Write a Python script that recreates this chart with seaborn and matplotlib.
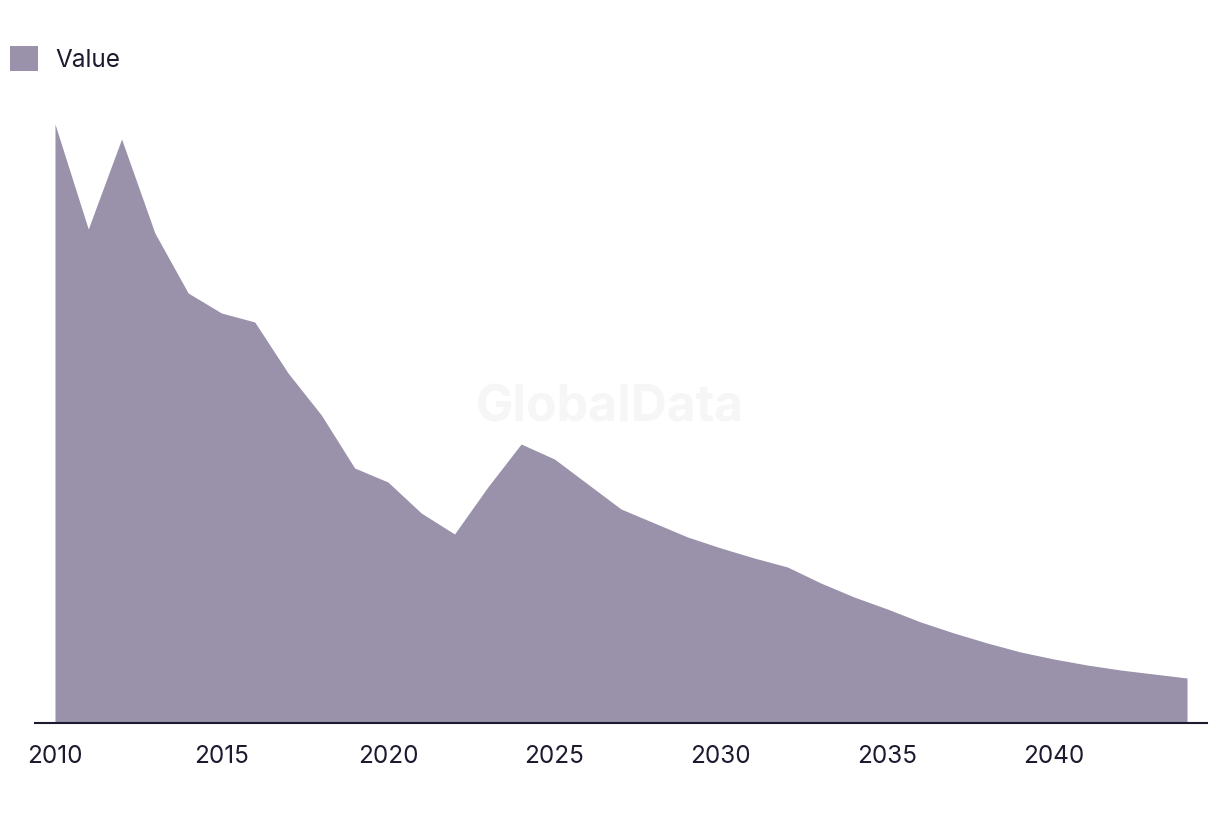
import matplotlib
matplotlib.use("Agg")
import matplotlib.pyplot as plt
import seaborn as sns
import pandas as pd
from matplotlib.patches import Patch

years = list(range(2010, 2045))
values = [599, 494, 584, 490, 430, 410, 401, 350, 308, 255, 241, 210, 189, 236, 279,
          264, 239, 214, 200, 186, 175, 165, 156, 140, 126, 114, 101, 90, 80, 71,
          64, 58, 53, 49, 45]
tick_years = [2010, 2015, 2020, 2025, 2030, 2035, 2040]
series_name = "Value"

area_color = "#9a91aa"
text_color = "#1c1a2e"

sns.set_theme(style="white")
plt.rcParams['font.family'] = ['Inter', 'DejaVu Sans']

df = pd.DataFrame({"year": years, "value": values})

fig = plt.figure(figsize=(12.2, 8.14), dpi=100)
ax = fig.add_axes([35 / 1220, (814 - 723) / 814, (1207 - 35) / 1220, 623 / 814])

sns.lineplot(data=df, x="year", y="value", ax=ax, color=area_color, linewidth=0)
ax.fill_between(df["year"], df["value"], 0, color=area_color, linewidth=0)

ax.set_xlim(2010 - 0.6, 2044 + 0.6)
ax.set_ylim(0, 623)
ax.set_xticks(tick_years)
ax.set_xticklabels([str(t) for t in tick_years], fontsize=17.5, color=text_color)
ax.tick_params(axis="x", length=0, pad=16)
ax.set_yticks([])
ax.set_xlabel("")
ax.set_ylabel("")
for s in ["top", "right", "left"]:
    ax.spines[s].set_visible(False)
ax.spines["bottom"].set_color(text_color)
ax.spines["bottom"].set_linewidth(1.5)

fig.text(610 / 1220, 1 - 408 / 814, "GlobalData", fontsize=36, fontweight="bold",
         color="#f6f6f6", ha="center", va="center", zorder=0)

handle = Patch(facecolor=area_color, edgecolor="none", label=series_name)
leg = fig.legend(handles=[handle], loc="upper left", bbox_to_anchor=(10 / 1220, 1 - 46 / 814),
                 frameon=False, fontsize=17.5, handlelength=1.15, handleheight=1.2,
                 handletextpad=0.7, borderaxespad=0, borderpad=0)
for t in leg.get_texts():
    t.set_color(text_color)

fig.savefig("out.png", dpi=100)
